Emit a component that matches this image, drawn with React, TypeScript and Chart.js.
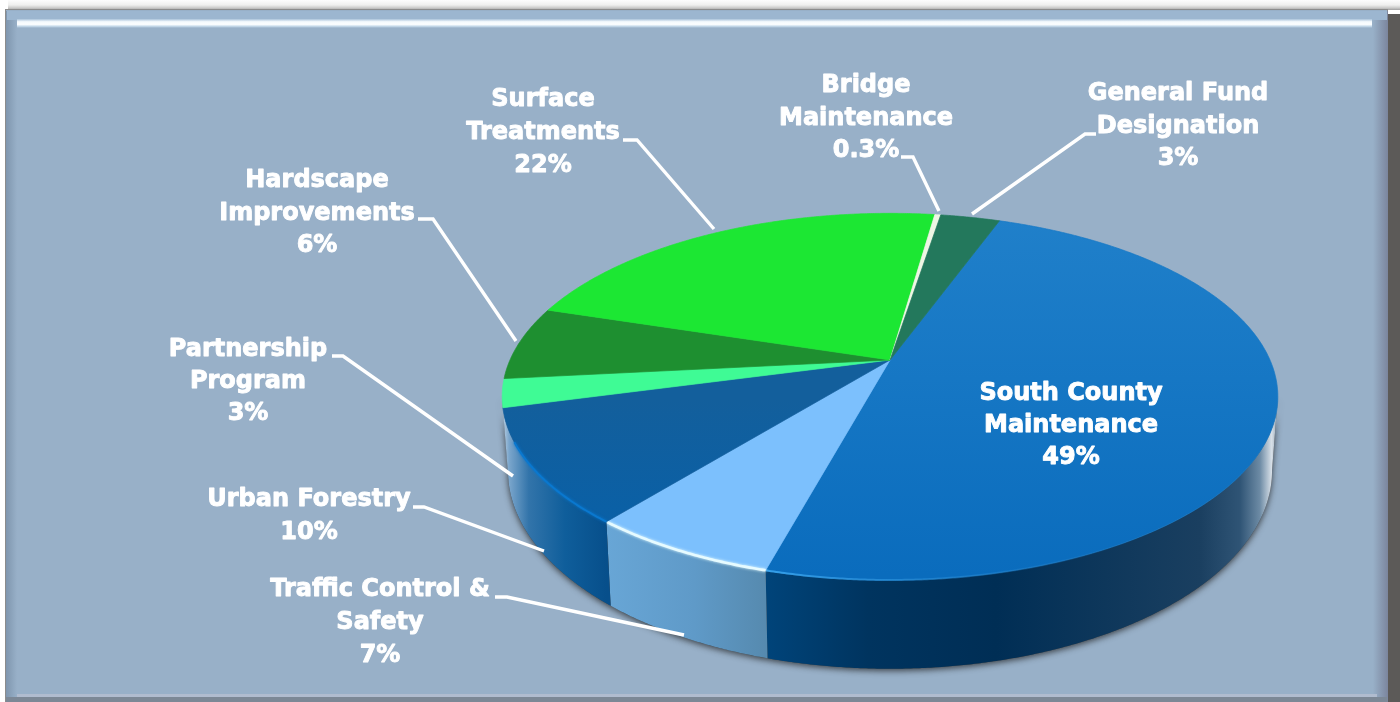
import React, { useEffect, useRef } from "react";
import { Chart, registerables, ArcElement, PieController } from "chart.js";

const categories = ["South County Maintenance", "Traffic Control & Safety", "Urban Forestry", "Partnership Program", "Hardscape Improvements", "Surface Treatments", "Bridge Maintenance", "General Fund Designation"];
const values = [48.7, 6.6, 10, 2.5, 6.5, 22.4, 0.3, 3];
const percentLabels = ["49%", "7%", "10%", "3%", "6%", "22%", "0.3%", "3%"];
const labelLines = [
  ["South County", "Maintenance"],
  ["Traffic Control &", "Safety"],
  ["Urban Forestry"],
  ["Partnership", "Program"],
  ["Hardscape", "Improvements"],
  ["Surface", "Treatments"],
  ["Bridge", "Maintenance"],
  ["General Fund", "Designation"],
];

const colors = ["#1579c6", "#7cc0fd", "#115f9f", "#3ffb95", "#1e8f30", "#1ce733", "#eef6e4", "#23785c"];
const wallStops: ([number, string][] | null)[] = [
  [[0, "#00447a"], [0.2, "#00345f"], [0.45, "#002e55"], [0.847, "#1a3f60"], [0.926, "#2f5475"], [0.965, "#6d8ba5"], [0.988, "#d8e0e8"], [1, "#8fa2b2"]],
  [[0, "#68a6d6"], [0.55, "#5f9ac8"], [1, "#568aaf"]],
  [[0, "#b8cfe2"], [0.06, "#7ba6cc"], [0.25, "#3274aa"], [0.6, "#0f5e9b"], [1, "#074f8b"]],
  null, null, null, null, null,
];
const rimColors = ["#35a0ea", "#e6fbff", "#0a78cf", null, null, null, null, null];

// label geometry: centre x, centre y of the first line, line step
const labelPos = [
  [1071, 394, 32], [380, 590, 33], [309, 500, 33], [248, 350, 32],
  [317, 181, 32.5], [543, 100, 33], [866, 86, 32.5], [1178, 94, 32.5],
];
const leaders: (number[][] | null)[] = [
  null,
  [[495, 597], [507, 597], [684, 635]],
  [[413, 507], [424, 507], [544, 551]],
  [[332, 356], [343, 356], [513, 476]],
  [[418, 219], [433, 219], [516, 341]],
  [[623, 140], [637, 140], [714, 229]],
  [[901, 157], [913, 157], [939, 211]],
  [[1096, 134], [1085, 134], [972, 214]],
];

const K = 0.2;
const AX = 380 / 342;
const BY = 176 / 342;
const DEPTH = 71 / 342;
const BOTTOM_NARROW = 0.015;
const WALL_MIN = Math.asin(K);
const WALL_MAX = Math.PI - WALL_MIN;

function project(x: number, y: number, r: number, a: number, drop = 0): [number, number] {
  const s = Math.sin(a);
  const w = 1 - K * s;
  return [x + ((1 - BOTTOM_NARROW * drop) * AX * r * Math.cos(a)) / w, y + (BY * r * s + drop * DEPTH * r) / w];
}

function trace(ctx: CanvasRenderingContext2D, x: number, y: number, r: number, a0: number, a1: number, drop: number, first: boolean) {
  const n = Math.max(2, Math.ceil(Math.abs(a1 - a0) / 0.006));
  for (let i = 0; i <= n; i++) {
    const [px, py] = project(x, y, r, a0 + ((a1 - a0) * i) / n, drop);
    if (first && i === 0) ctx.moveTo(px, py);
    else ctx.lineTo(px, py);
  }
}

class TiltedArc extends ArcElement {
  static id = "tiltedArc";
  draw(ctx: CanvasRenderingContext2D) {
    const { x, y, startAngle, endAngle, outerRadius: r } = (this as any).getProps(["x", "y", "startAngle", "endAngle", "outerRadius"]);
    const color = (this as any).options.backgroundColor;
    const idx = colors.indexOf(color);
    const norm = (a: number) => {
      let v = a;
      while (v < -Math.PI / 2 - 1e-6) v += Math.PI * 2;
      return v;
    };
    const a0 = norm(startAngle);
    const a1 = a0 + (endAngle - startAngle);
    const w0 = Math.max(a0, WALL_MIN);
    const w1 = Math.min(a1, WALL_MAX);
    const stops = wallStops[idx];
    ctx.save();
    if (stops && w1 > w0) {
      const xa = project(x, y, r, w0)[0];
      const xb = project(x, y, r, w1)[0];
      const g = ctx.createLinearGradient(Math.min(xa, xb), 0, Math.max(xa, xb), 0);
      stops.forEach(([p, c]) => g.addColorStop(p, c));
      ctx.beginPath();
      trace(ctx, x, y, r, w0, w1, 0, true);
      trace(ctx, x, y, r, w1, w0, 1, false);
      ctx.closePath();
      ctx.fillStyle = g;
      ctx.fill();
    }
    ctx.beginPath();
    ctx.moveTo(x, y);
    trace(ctx, x, y, r, a0, a1, 0, false);
    ctx.closePath();
    let fill: any = color;
    if (idx === 0) {
      const g = ctx.createLinearGradient(0, 215, 0, 575);
      g.addColorStop(0, "#2080ca");
      g.addColorStop(1, "#0a6cbd");
      fill = g;
    } else if (idx === 2) {
      const g = ctx.createLinearGradient(0, 400, 0, 520);
      g.addColorStop(0, "#135f9c");
      g.addColorStop(1, "#0a60a6");
      fill = g;
    }
    ctx.fillStyle = fill;
    ctx.strokeStyle = color;
    ctx.lineWidth = 0.7;
    ctx.fill();
    ctx.stroke();
    const rim = rimColors[idx];
    if (rim && w1 > w0) {
      ctx.beginPath();
      let rimEnd = w1;
      let rimStart = w0;
      let stroke: any = rim;
      if (idx === 0) {
        rimStart = 0.95;
        const xs = project(x, y, r, a1)[0];
        const xe = project(x, y, r, rimStart)[0];
        const g = ctx.createLinearGradient(xs, 0, xe, 0);
        g.addColorStop(0, rim);
        g.addColorStop(1, "rgba(20,115,195,0)");
        stroke = g;
      } else if (idx === 2) {
        rimEnd = Math.min(w1, 2.7);
      }
      trace(ctx, x, y, r, rimStart, rimEnd, 0, true);
      ctx.strokeStyle = stroke;
      if (idx !== 0) {
        ctx.shadowColor = rim;
        ctx.shadowBlur = 3;
      }
      ctx.lineWidth = idx === 1 ? 2.6 : 2;
      ctx.stroke();
    }
    ctx.restore();
  }
}

class TiltedPie extends PieController {
  static id = "tiltedPie";
  static defaults = { dataElementType: "tiltedArc" };
}

Chart.register(...registerables, TiltedArc as any, TiltedPie as any);

const framePlugin = {
  id: "frame",
  beforeDraw(chart: any) {
    const c: CanvasRenderingContext2D = chart.ctx;
    c.save();
    c.fillStyle = "#ffffff";
    c.fillRect(0, 0, 1400, 702);
    let g = c.createLinearGradient(0, 0, 0, 10);
    g.addColorStop(0, "#fdfdfd");
    g.addColorStop(0.5, "#efefee");
    g.addColorStop(0.8, "#c9c9c8");
    g.addColorStop(1, "#a0a0a0");
    c.fillStyle = g;
    c.fillRect(8, 0, 1392, 10);
    c.fillStyle = "#5c5a58";
    c.fillRect(1388, 14, 12, 688);
    c.fillStyle = "#8c8c8c";
    c.fillRect(5, 9, 1383, 693);
    c.fillStyle = "#98b0c8";
    c.fillRect(6, 10, 1381, 692);
    g = c.createLinearGradient(6, 0, 17, 0);
    g.addColorStop(0, "#7f96ae");
    g.addColorStop(1, "#98b0c8");
    c.fillStyle = g;
    c.fillRect(6, 11, 11, 691);
    g = c.createLinearGradient(1373, 0, 1388, 0);
    g.addColorStop(0, "#98b0c8");
    g.addColorStop(1, "#7b859d");
    c.fillStyle = g;
    c.fillRect(1373, 11, 15, 691);
    c.fillStyle = "#9cb6d0";
    c.fillRect(7, 11, 1380, 9);
    g = c.createLinearGradient(0, 19, 0, 28);
    g.addColorStop(0, "#a8c2da");
    g.addColorStop(0.3, "#f4f9fd");
    g.addColorStop(0.6, "#fbfdff");
    g.addColorStop(0.8, "#c8dcec");
    g.addColorStop(1, "#98b0c8");
    c.fillStyle = g;
    c.fillRect(17, 19, 1355, 9);
    c.fillStyle = "#b0bccf";
    c.fillRect(17, 694, 1360, 3);
    c.fillStyle = "#7c8896";
    c.fillRect(6, 697, 1381, 5);
    c.restore();
  },
  beforeDatasetsDraw(chart: any) {
    const c: CanvasRenderingContext2D = chart.ctx;
    const arc = chart.getDatasetMeta(0).data[0];
    const { x, y, outerRadius: r } = arc;
    c.save();
    c.beginPath();
    trace(c, x, y, r, WALL_MIN, WALL_MAX, 0, true);
    trace(c, x, y, r, WALL_MAX, WALL_MIN, 1, false);
    c.closePath();
    c.shadowColor = "rgba(30,30,30,0.75)";
    c.shadowBlur = 6;
    c.shadowOffsetY = 2;
    c.fillStyle = "#444";
    c.fill();
    c.restore();
  },
  afterDraw(chart: any) {
    const c: CanvasRenderingContext2D = chart.ctx;
    c.save();
    c.strokeStyle = "#ffffff";
    c.lineWidth = 3.4;
    c.lineJoin = "miter";
    leaders.forEach((pts) => {
      if (!pts) return;
      c.beginPath();
      pts.forEach(([px, py], i) => (i ? c.lineTo(px, py) : c.moveTo(px, py)));
      c.stroke();
    });
    c.font = "bold 24px 'DejaVu Sans'";
    c.textAlign = "center";
    c.textBaseline = "middle";
    c.fillStyle = "#ffffff";
    c.lineWidth = 0.9;
    c.lineJoin = "round";
    categories.forEach((_, i) => {
      const [cx, cy, step] = labelPos[i];
      [...labelLines[i], percentLabels[i]].forEach((t, j) => {
        c.fillText(t, cx, cy + j * step);
        c.strokeText(t, cx, cy + j * step);
      });
    });
    c.restore();
  },
};

export default function App() {
  const ref = useRef<HTMLCanvasElement>(null);
  useEffect(() => {
    const chart = new Chart(ref.current!, {
      type: "tiltedPie" as any,
      data: {
        labels: categories,
        datasets: [{ data: values, backgroundColor: colors, borderWidth: 0 }],
      },
      options: {
        animation: false,
        responsive: false,
        devicePixelRatio: 1,
        rotation: 20,
        layout: { padding: { left: 380, top: 18 } },
        plugins: { legend: { display: false }, tooltip: { enabled: false } },
      } as any,
      plugins: [framePlugin],
    });
    return () => chart.destroy();
  }, []);
  return <canvas ref={ref} width={1400} height={702} style={{ position: "fixed", left: 0, top: 0, display: "block" }} />;
}
